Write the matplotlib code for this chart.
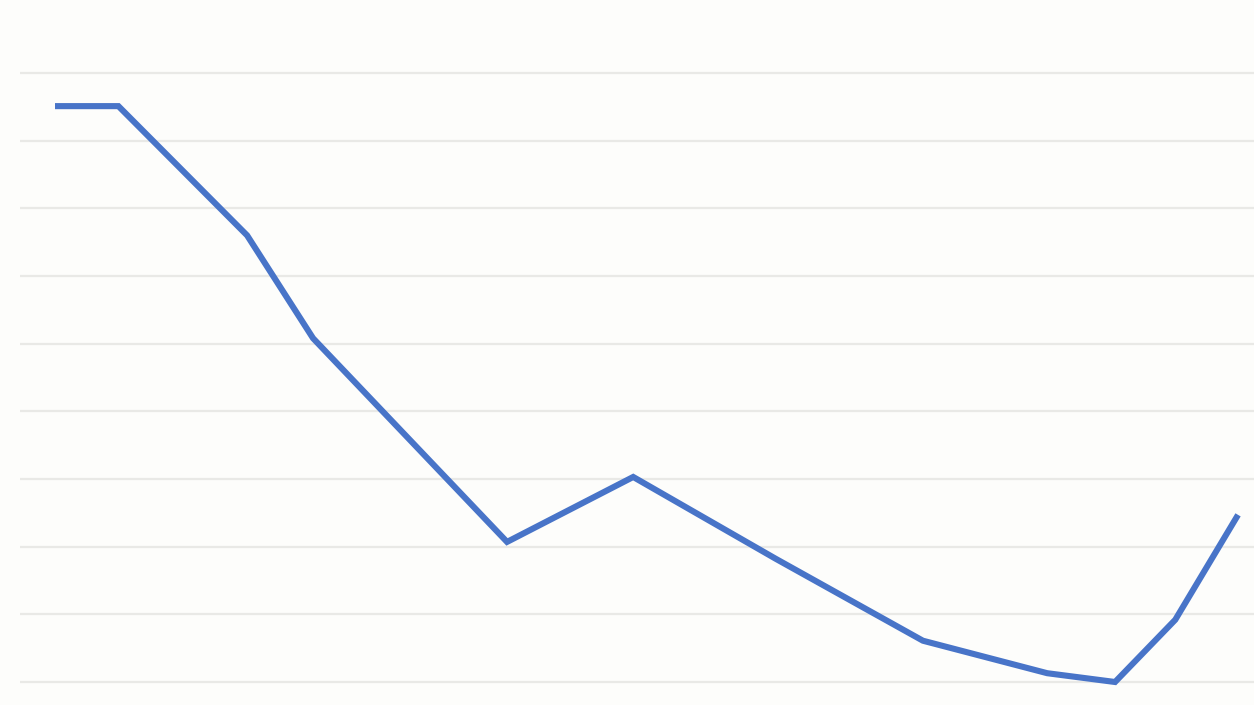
import matplotlib
matplotlib.use("Agg")
import matplotlib.pyplot as plt

# Data (x in category steps, y in gridline units of 10)
x_vals = [0.0, 1.0, 3.03, 4.07, 7.13, 9.12, 11.37, 13.69, 15.65, 16.72, 17.67, 18.66]
y_vals = [85.1, 85.1, 66.0, 50.8, 20.7, 30.3, 18.2, 6.1, 1.3, 0.0, 9.2, 24.7]
grid_levels = [0, 10, 20, 30, 40, 50, 60, 70, 80, 90]

W, H, DPI = 1254, 705, 100
fig = plt.figure(figsize=(W / DPI, H / DPI), dpi=DPI)
bg = "#FDFDFB"
fig.patch.set_facecolor(bg)

ax = fig.add_axes([20 / W, 0, 1 - 20 / W, 1])
ax.set_facecolor(bg)

for g in grid_levels:
    ax.axhline(g, color="#E9E9E6", lw=1.6, zorder=1)

ax.plot(x_vals, y_vals, color="#4874C8", lw=4.4, solid_joinstyle="miter",
        solid_capstyle="butt", zorder=3)

ax.set_xlim((20 - 55) / 63.4, (1254 - 55) / 63.4)
ax.set_ylim((682 - 705) / 6.767, (682 - 0) / 6.767)
ax.set_xticks([])
ax.set_yticks([])
for s in ax.spines.values():
    s.set_visible(False)

fig.savefig("out.png", dpi=DPI, facecolor=bg)
